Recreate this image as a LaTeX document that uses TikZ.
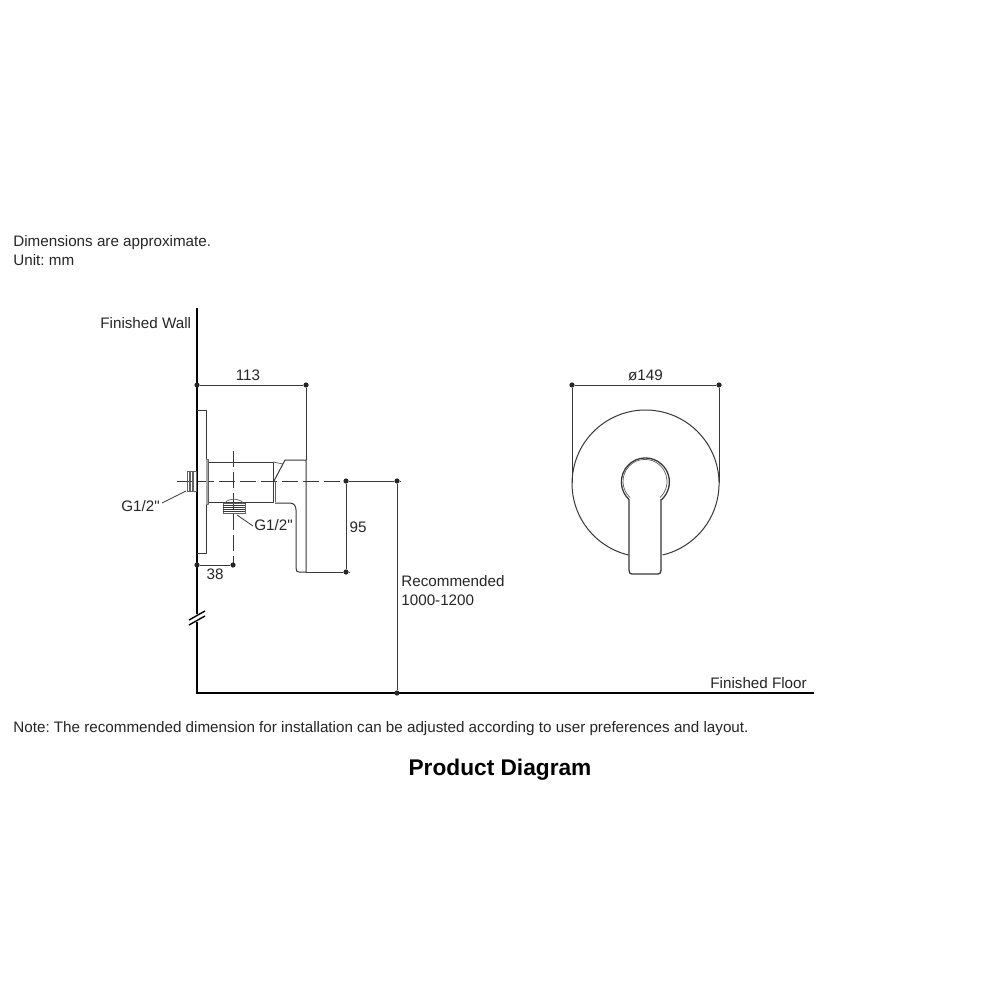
\documentclass[tikz,border=0pt]{standalone}
\usepackage{fontspec}
\setmainfont{Liberation Sans}
\newfontfamily\plainf{Liberation Sans}
\definecolor{ink}{gray}{0.22}
\tikzset{
  x=0.5pt,y=-0.5pt,
  part/.style={draw=ink,line width=0.5pt,line join=round},
  thin part/.style={draw=ink!80,line width=0.35pt},
  dim/.style={draw=ink,line width=0.4pt},
  wall/.style={draw=black,line width=1pt},
  centre/.style={draw=ink,line width=0.42pt,dash pattern=on 8pt off 2.5pt},
  dimdot/.style={circle,fill=black!85,inner sep=0pt,minimum size=2.6pt},
  lab/.style={font=\fontsize{7.6}{9}\selectfont,text=black!85,inner sep=0pt,anchor=base west},
  labc/.style={lab,anchor=base},
}
\begin{document}
\frenchspacing
\begin{tikzpicture}
\useasboundingbox[fill=white] (0,0) rectangle (1000,1000);
% texts
\node[lab] (t1) at (13,246) {\frenchspacing Dimensions are approximate.};
\node[lab] (t2) at (13,265) {\frenchspacing Unit: mm};
\node[lab] (fw) at (100,328) {Finished Wall};
\node[labc] (d113) at (248,380) {113};
\node[labc] (d149) at (645.5,380) {ø149};
\node[lab] (g1) at (121,511) {\plainf G1/2"};
\node[lab] (g2) at (254,530) {\plainf G1/2"};
\node[labc] (d95) at (358,532) {95};
\node[labc] (d38) at (215,579) {38};
\node[lab] (rec1) at (401,586) {Recommended};
\node[lab] (rec2) at (401,605) {1000-1200};
\node[lab] (ff) at (710,688) {Finished Floor};
\node[lab] (note) at (13,732) {\frenchspacing Note: The recommended dimension for installation can be adjusted according to user preferences and layout.};
\node[labc,font=\fontsize{11.35}{13}\selectfont\bfseries,text=black] (title) at (500,775) {Product Diagram};
% wall and floor
\coordinate (wtop) at (197,308);
\coordinate (wb1) at (197,614);
\coordinate (wb2) at (197,622);
\coordinate (corner) at (197,693);
\coordinate (fend) at (814,693);
\draw[wall] (wtop) -- (wb1);
\draw[wall] (wb2) -- (corner) -- (fend);
\draw[wall,line width=0.7pt] (189,620) -- (205,611);
\draw[wall,line width=0.7pt] (189,625) -- (205,616);
% centre lines
\draw[centre] (177,481) -- (346,481);
\draw[centre] (233,451) -- (233,565);
% side view
\draw[part] (197,410) -- (206,410) -- (206,553) -- (197,553);
\fill[gray!70] (206,459) rectangle (208.5,505);
\draw[thin part] (206,459) -- (208.5,460) -- (208.5,504) -- (206,505);
\draw[part] (208.5,462) -- (273,462) -- (273,502) -- (208.5,502);
\draw[thin part] (275,481) -- (275,502);
\draw[thin part] (273,462) -- (283,464);
\draw[part] (274,481) -- (285,460) -- (306,460) -- (306,572) -- (299,572)
  .. controls (297,572) and (296,571) .. (296,568) -- (296,510)
  .. controls (296,506) and (294,503) .. (290,503) -- (275,503);
% left thread
\draw[thin part] (187,471) rectangle (196,491);
\foreach \x in {189,190.5,192,193.5}
  \draw[thin part] (\x,471) -- (\x,491);
% lower thread
\draw[thin part] (225,503) .. controls (228,498) and (240,498) .. (243,503);
\draw[thin part] (223,503) -- (245,503) -- (245,513) -- (223,513) -- cycle;
\foreach \y in {505.5,507.5,509.5,511.5}
  \draw[draw=ink,line width=0.5pt] (223,\y) -- (245,\y);
% leaders
\coordinate (l1) at (186,491);
\coordinate (l1e) at (162,503);
\coordinate (l2) at (237,515);
\coordinate (l2e) at (253,526);
\draw[dim] (l1) -- (l1e);
\draw[dim] (l2) -- (l2e);
% dimensions
\node[dimdot] (a1) at (197,385) {};
\node[dimdot] (a2) at (306,385) {};
\coordinate (a3) at (306,460);
\draw[dim] (a1) -- (a2) -- (a3);
\node[dimdot] (b1) at (197,565) {};
\node[dimdot] (b2) at (233,565) {};
\draw[dim] (b1) -- (b2);
\node[dimdot] (c1) at (346,481) {};
\node[dimdot] (c2) at (346,572) {};
\coordinate (c3) at (306,572);
\draw[dim] (c1) -- (c2) -- (c3);
\draw[dim] (c2) -- ++(4,0);
\node[dimdot] (e1) at (397,481) {};
\node[dimdot] (e2) at (397,693) {};
\draw[dim] (e1) -- (e2);
\draw[dim] (c1) -- (e1);
\draw[dim] (e1) -- ++(4,0);
% front view
\node[dimdot] (f1) at (572,385) {};
\node[dimdot] (f2) at (719,385) {};
\coordinate (f3) at (572,483);
\coordinate (f4) at (719,483);
\draw[dim] (f3) -- (f1) -- (f2) -- (f4);
\draw[part] (628.5,555) arc[start angle=103.4,end angle=436.6,radius=73.5];
\draw[part,line width=0.65pt] (629,499.5) arc[start angle=133,end angle=407,radius=24]
  -- (661,499.5) -- (661,570) .. controls (661,573) and (660,574) .. (658,574)
  -- (632,574) .. controls (630,574) and (629,573) .. (629,570) -- cycle;
\draw[thin part] (630,497.5) arc[start angle=133,end angle=407,radius=22];
\end{tikzpicture}
\end{document}
